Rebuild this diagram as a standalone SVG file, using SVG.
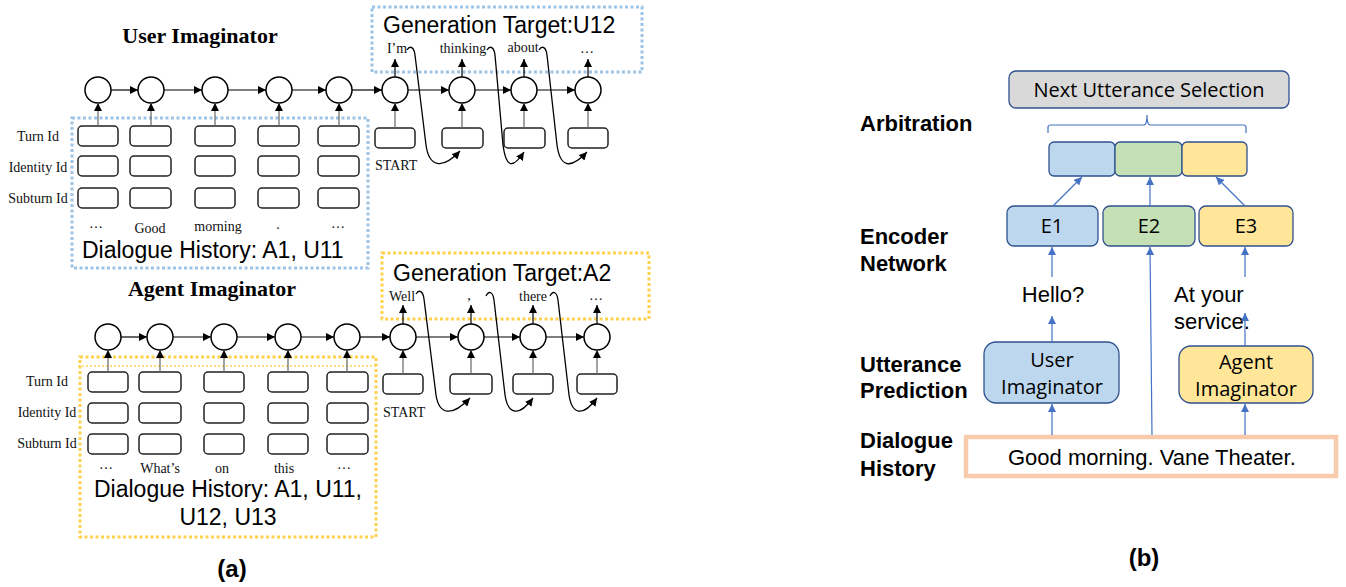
<svg xmlns="http://www.w3.org/2000/svg" width="1346" height="587" viewBox="0 0 1346 587">
<defs>
<marker id="ah" viewBox="0 0 10 10" refX="10" refY="5" markerWidth="8" markerHeight="8" markerUnits="userSpaceOnUse" orient="auto"><path d="M0,0 L10,5 L0,10 z" fill="#000"/></marker>
<marker id="ab" viewBox="0 0 10 10" refX="10" refY="5" markerWidth="8" markerHeight="8" markerUnits="userSpaceOnUse" orient="auto"><path d="M0,0 L10,5 L0,10 z" fill="#4472C4"/></marker>
</defs>
<style>
.bg{fill:#fff}
.c{fill:#fff;stroke:#000;stroke-width:1.5}
.b{fill:#fff;stroke:#222;stroke-width:1.5}
.h{stroke:#000;stroke-width:1.2;fill:none;marker-end:url(#ah)}
.v{stroke:#666;stroke-width:1.2;fill:none;marker-end:url(#ah)}
.cv{stroke:#000;stroke-width:1.3;fill:none;marker-end:url(#ah)}
.ser{font-family:"Liberation Serif",serif;font-size:14px;fill:#111}
.ttl{font-family:"Liberation Serif",serif;font-size:22px;font-weight:bold;fill:#000;text-anchor:middle}
.big{font-family:"Liberation Sans",Arial,sans-serif;font-size:23px;fill:#000}
.dotb{fill:none;stroke:#9DC3E6;stroke-width:3;stroke-dasharray:3 2.5}
.doty{fill:none;stroke:#FFD24D;stroke-width:3;stroke-dasharray:3 2.5}
.lbl{font-family:"Liberation Sans",Arial,sans-serif;font-size:22px;font-weight:bold;fill:#000}
.cal{font-family:"Open Sans","Liberation Sans",sans-serif;font-size:20px;fill:#000;text-anchor:middle}
.ar{font-family:"Liberation Sans",Arial,sans-serif;font-size:22px;fill:#000}
.bl{stroke:#4472C4;stroke-width:1.2;fill:none;marker-end:url(#ab)}
.nb{stroke:#2F528F;stroke-width:1.3}
.cap{font-family:"Liberation Sans",Arial,sans-serif;font-size:24px;font-weight:bold;fill:#000;text-anchor:middle}
</style>
<rect class="bg" x="0" y="0" width="1346" height="587"/>

<!-- (a) User Imaginator -->
<g id="user-imaginator">
<text class="ttl" x="200" y="43">User Imaginator</text>
<rect class="dotb" x="72" y="118" width="296" height="150"/>
<rect class="dotb" x="372" y="7" width="270" height="65"/>
<text class="big" x="383" y="33">Generation Target:U12</text>
<g class="ser" text-anchor="middle">
<text x="38" y="141">Turn Id</text>
<text x="38" y="172">Identity Id</text>
<text x="38" y="203">Subturn Id</text>
</g>
<g>
<rect class="b" x="78" y="126" width="40" height="20" rx="4"/>
<rect class="b" x="130" y="126" width="41" height="20" rx="4"/>
<rect class="b" x="195" y="126" width="40" height="20" rx="4"/>
<rect class="b" x="258" y="126" width="41" height="20" rx="4"/>
<rect class="b" x="318" y="126" width="41" height="20" rx="4"/>
<rect class="b" x="78" y="156" width="40" height="20" rx="4"/>
<rect class="b" x="130" y="156" width="41" height="20" rx="4"/>
<rect class="b" x="195" y="156" width="40" height="20" rx="4"/>
<rect class="b" x="258" y="156" width="41" height="20" rx="4"/>
<rect class="b" x="318" y="156" width="41" height="20" rx="4"/>
<rect class="b" x="78" y="188" width="40" height="20" rx="4"/>
<rect class="b" x="130" y="188" width="41" height="20" rx="4"/>
<rect class="b" x="195" y="188" width="40" height="20" rx="4"/>
<rect class="b" x="258" y="188" width="41" height="20" rx="4"/>
<rect class="b" x="318" y="188" width="41" height="20" rx="4"/>
<rect class="b" x="375" y="128" width="40" height="20" rx="4"/>
<rect class="b" x="442" y="128" width="41" height="20" rx="4"/>
<rect class="b" x="504" y="128" width="41" height="20" rx="4"/>
<rect class="b" x="568" y="128" width="40" height="20" rx="4"/>
</g>
<g>
<circle class="c" cx="98" cy="90" r="13"/>
<circle class="c" cx="151" cy="90" r="13"/>
<circle class="c" cx="215" cy="90" r="13"/>
<circle class="c" cx="279" cy="90" r="13"/>
<circle class="c" cx="339" cy="90" r="13"/>
<circle class="c" cx="395" cy="90" r="13"/>
<circle class="c" cx="462" cy="90" r="13"/>
<circle class="c" cx="524" cy="90" r="13"/>
<circle class="c" cx="588" cy="90" r="13"/>
</g>
<g class="ser" text-anchor="middle">
<text x="96" y="228">…</text>
<text x="150" y="233">Good</text>
<text x="218" y="231">morning</text>
<text x="278" y="229">.</text>
<text x="338" y="228">…</text>
<text x="397" y="53">I’m</text>
<text x="463" y="53">thinking</text>
<text x="523" y="52">about</text>
<text x="587" y="53">…</text>
</g>
<text class="ser" x="375" y="170">START</text>
<text class="big" x="82" y="258">Dialogue History: A1, U11</text>
</g>

<!-- (a) Agent Imaginator -->
<g id="agent-imaginator">
<text class="ttl" x="212" y="296">Agent Imaginator</text>
<rect class="doty" x="80" y="357" width="296" height="180"/>
<line x1="78" y1="366" x2="376" y2="366" stroke="#FFD24D" stroke-width="1.5" stroke-dasharray="2 2"/>
<rect class="doty" x="382" y="253" width="267" height="66"/>
<text class="big" x="393" y="281">Generation Target:A2</text>
<g class="ser" text-anchor="middle">
<text x="47" y="386">Turn Id</text>
<text x="47" y="417">Identity Id</text>
<text x="47" y="448">Subturn Id</text>
</g>
<g>
<rect class="b" x="88" y="372" width="40" height="20" rx="4"/>
<rect class="b" x="139" y="372" width="42" height="20" rx="4"/>
<rect class="b" x="204" y="372" width="40" height="20" rx="4"/>
<rect class="b" x="268" y="372" width="40" height="20" rx="4"/>
<rect class="b" x="327" y="372" width="41" height="20" rx="4"/>
<rect class="b" x="88" y="403" width="40" height="20" rx="4"/>
<rect class="b" x="139" y="403" width="42" height="20" rx="4"/>
<rect class="b" x="204" y="403" width="40" height="20" rx="4"/>
<rect class="b" x="268" y="403" width="40" height="20" rx="4"/>
<rect class="b" x="327" y="403" width="41" height="20" rx="4"/>
<rect class="b" x="88" y="434" width="40" height="20" rx="4"/>
<rect class="b" x="139" y="434" width="42" height="20" rx="4"/>
<rect class="b" x="204" y="434" width="40" height="20" rx="4"/>
<rect class="b" x="268" y="434" width="40" height="20" rx="4"/>
<rect class="b" x="327" y="434" width="41" height="20" rx="4"/>
<rect class="b" x="383" y="374" width="40" height="20" rx="4"/>
<rect class="b" x="450" y="374" width="42" height="20" rx="4"/>
<rect class="b" x="513" y="374" width="40" height="20" rx="4"/>
<rect class="b" x="577" y="374" width="40" height="20" rx="4"/>
</g>
<g>
<circle class="c" cx="108" cy="337" r="13"/>
<circle class="c" cx="160" cy="337" r="13"/>
<circle class="c" cx="224" cy="337" r="13"/>
<circle class="c" cx="288" cy="337" r="13"/>
<circle class="c" cx="347" cy="337" r="13"/>
<circle class="c" cx="403" cy="337" r="13"/>
<circle class="c" cx="471" cy="337" r="13"/>
<circle class="c" cx="533" cy="337" r="13"/>
<circle class="c" cx="597" cy="337" r="13"/>
</g>
<g class="ser" text-anchor="middle">
<text x="106" y="469">…</text>
<text x="160" y="473">What’s</text>
<text x="222" y="473">on</text>
<text x="284" y="473">this</text>
<text x="344" y="469">…</text>
<text x="402" y="301">Well</text>
<text x="469" y="300">,</text>
<text x="533" y="301">there</text>
<text x="596" y="300">…</text>
</g>
<text class="ser" x="383" y="417">START</text>
<text class="big" x="228" y="497" text-anchor="middle">Dialogue History: A1, U11,</text>
<text class="big" x="228" y="525" text-anchor="middle">U12, U13</text>
</g>

<!-- (b) nodes -->
<g id="next-utterance-selection">
<rect x="1009" y="71" width="280" height="37" rx="7" fill="#D9D9D9" class="nb"/>
<text class="cal" x="1149" y="97">Next Utterance Selection</text>
</g>
<g id="arbitration-vector">
<rect x="1049" y="142" width="66" height="34" rx="5" fill="#BDD7EE" class="nb"/>
<rect x="1115" y="142" width="67" height="34" rx="5" fill="#C5E0B4" class="nb"/>
<rect x="1182" y="142" width="65" height="34" rx="5" fill="#FFE699" class="nb"/>
</g>
<g id="e1">
<rect x="1007" y="206" width="91" height="40" rx="7" fill="#BDD7EE" class="nb"/>
<text class="cal" x="1052" y="233">E1</text>
</g>
<g id="e2">
<rect x="1103" y="206" width="92" height="40" rx="7" fill="#C5E0B4" class="nb"/>
<text class="cal" x="1149" y="233">E2</text>
</g>
<g id="e3">
<rect x="1199" y="206" width="94" height="40" rx="7" fill="#FFE699" class="nb"/>
<text class="cal" x="1246" y="233">E3</text>
</g>
<g id="user-imaginator-b">
<rect x="984" y="342" width="135" height="61" rx="12" fill="#BDD7EE" class="nb"/>
<text class="cal" x="1052" y="367" font-size="21">User</text>
<text class="cal" x="1052" y="394" font-size="21">Imaginator</text>
</g>
<g id="agent-imaginator-b">
<rect x="1179" y="346" width="134" height="57" rx="12" fill="#FFE699" class="nb"/>
<text class="cal" x="1246" y="369" font-size="21">Agent</text>
<text class="cal" x="1246" y="396" font-size="21">Imaginator</text>
</g>
<g id="dialogue-history-b">
<rect x="966" y="437" width="370" height="39" fill="#fff" stroke="#F8CBAD" stroke-width="4.5"/>
<text class="ar" x="1008" y="465" font-size="24">Good morning. Vane Theater.</text>
</g>
<g id="labels-b">
<text class="lbl" x="860" y="131">Arbitration</text>
<text class="lbl" x="860" y="244">Encoder</text>
<text class="lbl" x="860" y="271">Network</text>
<text class="lbl" x="860" y="372">Utterance</text>
<text class="lbl" x="860" y="398">Prediction</text>
<text class="lbl" x="860" y="448">Dialogue</text>
<text class="lbl" x="860" y="476">History</text>
<text class="ar" x="1053" y="302" text-anchor="middle">Hello?</text>
<text class="ar" x="1174" y="302">At your</text>
<text class="ar" x="1174" y="329">service.</text>
</g>
<text class="cap" x="232" y="577">(a)</text>
<text class="cap" x="1144" y="566">(b)</text>

<!-- connectors -->
<g id="connectors">
<line class="h" x1="111" y1="90" x2="138" y2="90"/>
<line class="h" x1="164" y1="90" x2="202" y2="90"/>
<line class="h" x1="228" y1="90" x2="266" y2="90"/>
<line class="h" x1="292" y1="90" x2="326" y2="90"/>
<line class="h" x1="352" y1="90" x2="382" y2="90"/>
<line class="h" x1="408" y1="90" x2="449" y2="90"/>
<line class="h" x1="475" y1="90" x2="511" y2="90"/>
<line class="h" x1="537" y1="90" x2="575" y2="90"/>
<line class="v" x1="98" y1="126" x2="98" y2="103"/>
<line class="v" x1="151" y1="126" x2="151" y2="103"/>
<line class="v" x1="215" y1="126" x2="215" y2="103"/>
<line class="v" x1="279" y1="126" x2="279" y2="103"/>
<line class="v" x1="339" y1="126" x2="339" y2="103"/>
<line class="v" x1="395" y1="128" x2="395" y2="103"/>
<line class="v" x1="462" y1="128" x2="462" y2="103"/>
<line class="v" x1="524" y1="128" x2="524" y2="103"/>
<line class="v" x1="588" y1="128" x2="588" y2="103"/>
<line class="h" x1="395" y1="77" x2="395" y2="59"/>
<line class="h" x1="462" y1="77" x2="462" y2="59"/>
<line class="h" x1="524" y1="77" x2="524" y2="59"/>
<line class="h" x1="588" y1="77" x2="588" y2="59"/>
<path class="cv" d="M407,50 C410,45 414,47 415,55 L426,145 C429,167 442,170 460,151"/>
<path class="cv" d="M487,50 C490,45 494,47 495,55 L503,145 C506,167 512,170 524,152"/>
<path class="cv" d="M539,50 C542,45 546,47 547,55 L557,145 C560,167 570,170 587,152"/>

<line class="h" x1="121" y1="337" x2="147" y2="337"/>
<line class="h" x1="173" y1="337" x2="211" y2="337"/>
<line class="h" x1="237" y1="337" x2="275" y2="337"/>
<line class="h" x1="301" y1="337" x2="334" y2="337"/>
<line class="h" x1="360" y1="337" x2="390" y2="337"/>
<line class="h" x1="416" y1="337" x2="458" y2="337"/>
<line class="h" x1="484" y1="337" x2="520" y2="337"/>
<line class="h" x1="546" y1="337" x2="584" y2="337"/>
<line class="v" x1="108" y1="372" x2="108" y2="350"/>
<line class="v" x1="160" y1="372" x2="160" y2="350"/>
<line class="v" x1="224" y1="372" x2="224" y2="350"/>
<line class="v" x1="288" y1="372" x2="288" y2="350"/>
<line class="v" x1="347" y1="372" x2="347" y2="350"/>
<line class="v" x1="403" y1="374" x2="403" y2="350"/>
<line class="v" x1="471" y1="374" x2="471" y2="350"/>
<line class="v" x1="533" y1="374" x2="533" y2="350"/>
<line class="v" x1="597" y1="374" x2="597" y2="350"/>
<line class="h" x1="403" y1="324" x2="403" y2="305"/>
<line class="h" x1="471" y1="324" x2="471" y2="305"/>
<line class="h" x1="533" y1="324" x2="533" y2="305"/>
<line class="h" x1="597" y1="324" x2="597" y2="305"/>
<path class="cv" d="M416,294 C419,289 423,291 424,299 L436,395 C439,415 452,417 470,398"/>
<path class="cv" d="M486,296 C489,290 493,292 494,300 L505,395 C508,415 519,417 533,398"/>
<path class="cv" d="M550,296 C553,290 557,292 558,300 L569,395 C572,415 583,417 597,398"/>

<path stroke="#4472C4" stroke-width="1.2" fill="none" d="M1048,133 L1048,127 Q1048,125 1051,125 L1144,125 Q1147,125 1147,115 Q1147,125 1150,125 L1243,125 Q1246,125 1246,127 L1246,133"/>
<line class="bl" x1="1053" y1="206" x2="1082" y2="177"/>
<line class="bl" x1="1150" y1="206" x2="1150" y2="177"/>
<line class="bl" x1="1245" y1="206" x2="1216" y2="177"/>
<line class="bl" x1="1052" y1="277" x2="1052" y2="247"/>
<line class="bl" x1="1245" y1="277" x2="1245" y2="247"/>
<line class="bl" x1="1152" y1="435" x2="1150" y2="247"/>
<line class="bl" x1="1052" y1="342" x2="1052" y2="316"/>
<line class="bl" x1="1245" y1="346" x2="1245" y2="313"/>
<line class="bl" x1="1052" y1="435" x2="1052" y2="404"/>
<line class="bl" x1="1245" y1="435" x2="1245" y2="404"/>
</g>
</svg>
